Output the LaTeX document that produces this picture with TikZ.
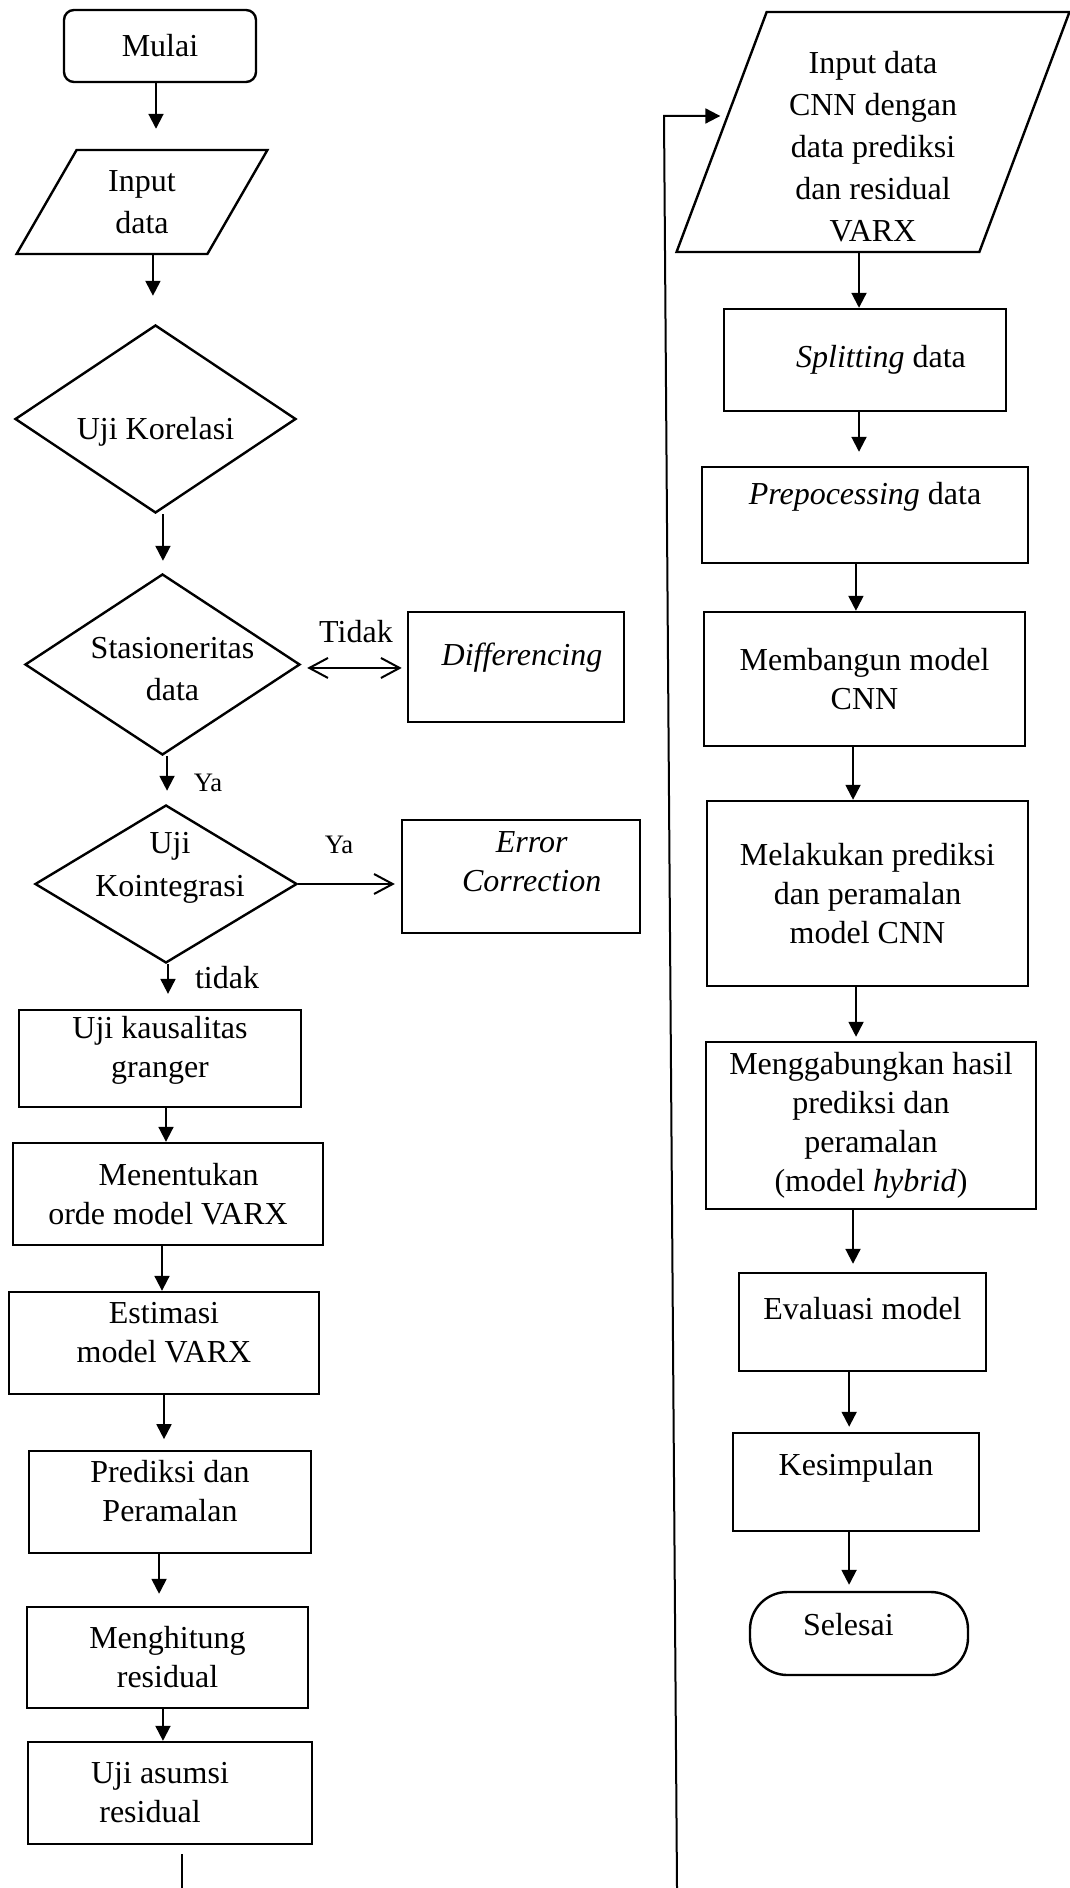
\documentclass[tikz,border=0pt]{standalone}
\usepackage{fontspec}
\setmainfont{Liberation Serif}
\usetikzlibrary{arrows.meta,shapes.geometric}
\newcommand{\padlow}[1]{\rule[-#1]{0pt}{#1}}
\newcommand{\padhigh}[1]{\rule{0pt}{#1}}
\tikzset{
sz/.style 2 args={minimum width=#1*0.375pt,minimum height=#2*0.375pt},
box/.style={draw,line width=0.9pt,align=center,inner sep=0pt},
term/.style={box,rounded corners=3.75pt},
io/.style={box,trapezium,trapezium stretches=true,font=\fontsize{12}{15.75}\selectfont},
decision/.style={draw,line width=0.9pt,diamond,inner sep=0pt},
lbl/.style={align=center,inner sep=0pt},
small/.style={font=\fontsize{10}{12}\selectfont},
conn/.style={line width=0.75pt},
arr/.style={conn,-{Triangle[length=5.6pt,width=5.6pt]}},
barb/.style={conn,-{Straight Barb[length=7pt,width=7.5pt]}},
barbs/.style={conn,{Straight Barb[length=7pt,width=7.5pt]}-{Straight Barb[length=7pt,width=7.5pt]}}
}
\begin{document}
\begin{tikzpicture}[x=0.375pt,y=-0.375pt,font=\fontsize{12}{14.6}\selectfont]
\useasboundingbox (0,0) rectangle (1069,1888);

\node[term,sz={192}{72}] (mulai) at (160,46) {Mulai};
\node[io,sz={252}{104},trapezium left angle=63.9,trapezium right angle=116.1] (inData) at (142,202) {Input\\data};
\node[decision,sz={281}{188},label={[name=korelasiTxt,lbl,yshift=-4.9pt]center:Uji Korelasi}] (korelasi) at (155.5,419) {};
\node[decision,sz={275}{181},label={[name=stasTxt,lbl,font=\fontsize{12}{15.6}\selectfont,xshift=3.75pt,yshift=-1.7pt]center:Stasioneritas\\data}] (stas) at (162.5,664.5) {};
\node[box,sz={216}{110}] (diff) at (516,667) {\hspace*{4.5pt}\textit{Differencing}\padlow{9.5pt}};
\node[decision,sz={262}{158},label={[name=kointTxt,lbl,font=\fontsize{12}{16}\selectfont,xshift=1.5pt,yshift=6pt]center:Uji\\Kointegrasi}] (koint) at (166,884) {};
\node[box,sz={238}{113}] (errc) at (521,876.5) {\hspace*{8pt}\textit{Error}\\\hspace*{8pt}\textit{Correction}\padlow{11pt}};
\node[box,sz={282}{97}] (kausal) at (160,1058.5) {Uji kausalitas\\granger\padlow{9pt}};
\node[box,sz={310}{102}] (menentukan) at (168,1194) {\hspace*{8pt}Menentukan\\orde model VARX};
\node[box,sz={310}{102}] (estimasi) at (164,1343) {Estimasi\\model VARX\padlow{8pt}};
\node[box,sz={282}{102}] (prediksi) at (170,1502) {Prediksi dan\\Peramalan\padlow{8pt}};
\node[box,sz={281}{101}] (menghitung) at (167.5,1657.5) {Menghitung\\residual};
\node[box,sz={284}{102}] (ujiasumsi) at (170,1793) {Uji asumsi\hspace*{7.5pt}\\residual\hspace*{15pt}};

\node[io,sz={393}{240},trapezium left angle=72,trapezium right angle=108] (inCNN) at (873,132) {\padhigh{19pt}Input data\\CNN dengan\\data prediksi\\dan residual\\VARX};
\node[box,sz={282}{102}] (split) at (865,360) {\hspace*{12pt}\textit{Splitting} data};
\node[box,sz={326}{96}] (prep) at (865,515) {\textit{Prepocessing} data\padlow{16pt}};
\node[box,sz={321}{134}] (membangun) at (864.5,679) {Membangun model\\CNN};
\node[box,sz={321}{185}] (melakukan) at (867.5,893.5) {Melakukan prediksi\\dan peramalan\\model CNN};
\node[box,sz={330}{167}] (gabung) at (871,1125.5) {Menggabungkan hasil\\prediksi dan\\peramalan\\(model \textit{hybrid})};
\node[box,sz={247}{98}] (evaluasi) at (862.5,1322) {Evaluasi model\padlow{10.5pt}};
\node[box,sz={246}{98}] (kesimpulan) at (856,1482) {Kesimpulan\padlow{13pt}};
\node[term,rounded corners=14pt,sz={218}{83}] (selesai) at (859,1633.5) {Selesai\hspace*{8pt}\padlow{7pt}};

\node[lbl] (tidakLbl) at (356,632) {Tidak};
\node[lbl,small] (yaLbl) at (208,783) {Ya};
\node[lbl,small] (yaKoint) at (339,845) {Ya};
\node[lbl] (tidakKoint) at (227,978) {tidak};

\draw[arr,shorten >=7.5pt] ([xshift=-1.5pt]mulai.south) -- ([xshift=-1.5pt]mulai.south |- inData.north);
\draw[arr,shorten >=10.5pt] ([xshift=4.1pt]inData.center |- inData.south) -- ([xshift=4.1pt]inData.center |- korelasi.north);
\draw[arr,shorten >=4.5pt] ([xshift=2.8pt]korelasi.south) -- ([xshift=2.8pt]korelasi.south |- stas.north);
\draw[arr,shorten >=4.9pt] ([xshift=1.7pt]stas.south) -- ([xshift=1.7pt]stas.south |- koint.north);
\draw[arr,shorten >=5.6pt] ([xshift=0.75pt]koint.south) -- ([xshift=0.75pt]koint.south |- kausal.north);
\draw[arr] ([xshift=2.25pt]kausal.south) -- ([xshift=2.25pt]kausal.south |- menentukan.north);
\draw[arr] ([xshift=-2.25pt]menentukan.south) -- ([xshift=-2.25pt]menentukan.south |- estimasi.north);
\draw[arr,shorten >=4pt] (estimasi.south) -- (estimasi.south |- prediksi.north);
\draw[arr,shorten >=4.5pt] ([xshift=-4.1pt]prediksi.south) -- ([xshift=-4.1pt]prediksi.south |- menghitung.north);
\draw[arr] ([xshift=-1.7pt]menghitung.south) -- ([xshift=-1.7pt]menghitung.south |- ujiasumsi.north);
\draw[barbs,shorten <=2.25pt,shorten >=1.9pt] ([yshift=-1.3pt]stas.east) -- ([yshift=-1.3pt]stas.east -| diff.west);
\draw[barb,shorten >=2.25pt] (koint.east) -- (koint.east -| errc.west);

\coordinate (cutL) at (182,1888);
\draw[conn] ([yshift=-3.4pt]ujiasumsi.south -| cutL) -- (cutL);
\coordinate (cutR) at (677,1888);
\coordinate (bendR) at (664,116);
\draw[arr] (cutR) -- (bendR) -- (bendR -| inCNN.left side);

\draw[arr] ([xshift=-5.25pt]inCNN.center |- inCNN.south) -- ([xshift=-5.25pt]inCNN.center |- split.north);
\draw[arr,shorten >=5.25pt] ([xshift=-2.25pt]split.south) -- ([xshift=-2.25pt]split.south |- prep.north);
\draw[arr] ([xshift=-3.4pt]prep.south) -- ([xshift=-3.4pt]prep.south |- membangun.north);
\draw[arr] ([xshift=-4.3pt]membangun.south) -- ([xshift=-4.3pt]membangun.south |- melakukan.north);
\draw[arr,shorten >=1.5pt] ([xshift=-4.3pt]melakukan.south) -- ([xshift=-4.3pt]melakukan.south |- gabung.north);
\draw[arr,shorten >=3pt] ([xshift=-6.75pt]gabung.south) -- ([xshift=-6.75pt]gabung.south |- evaluasi.north);
\draw[arr,shorten >=1.9pt] ([xshift=-5pt]evaluasi.south) -- ([xshift=-5pt]evaluasi.south |- kesimpulan.north);
\draw[arr,shorten >=2.25pt] ([xshift=-2.6pt]kesimpulan.south) -- ([xshift=-2.6pt]kesimpulan.south |- selesai.north);
\end{tikzpicture}
\end{document}
